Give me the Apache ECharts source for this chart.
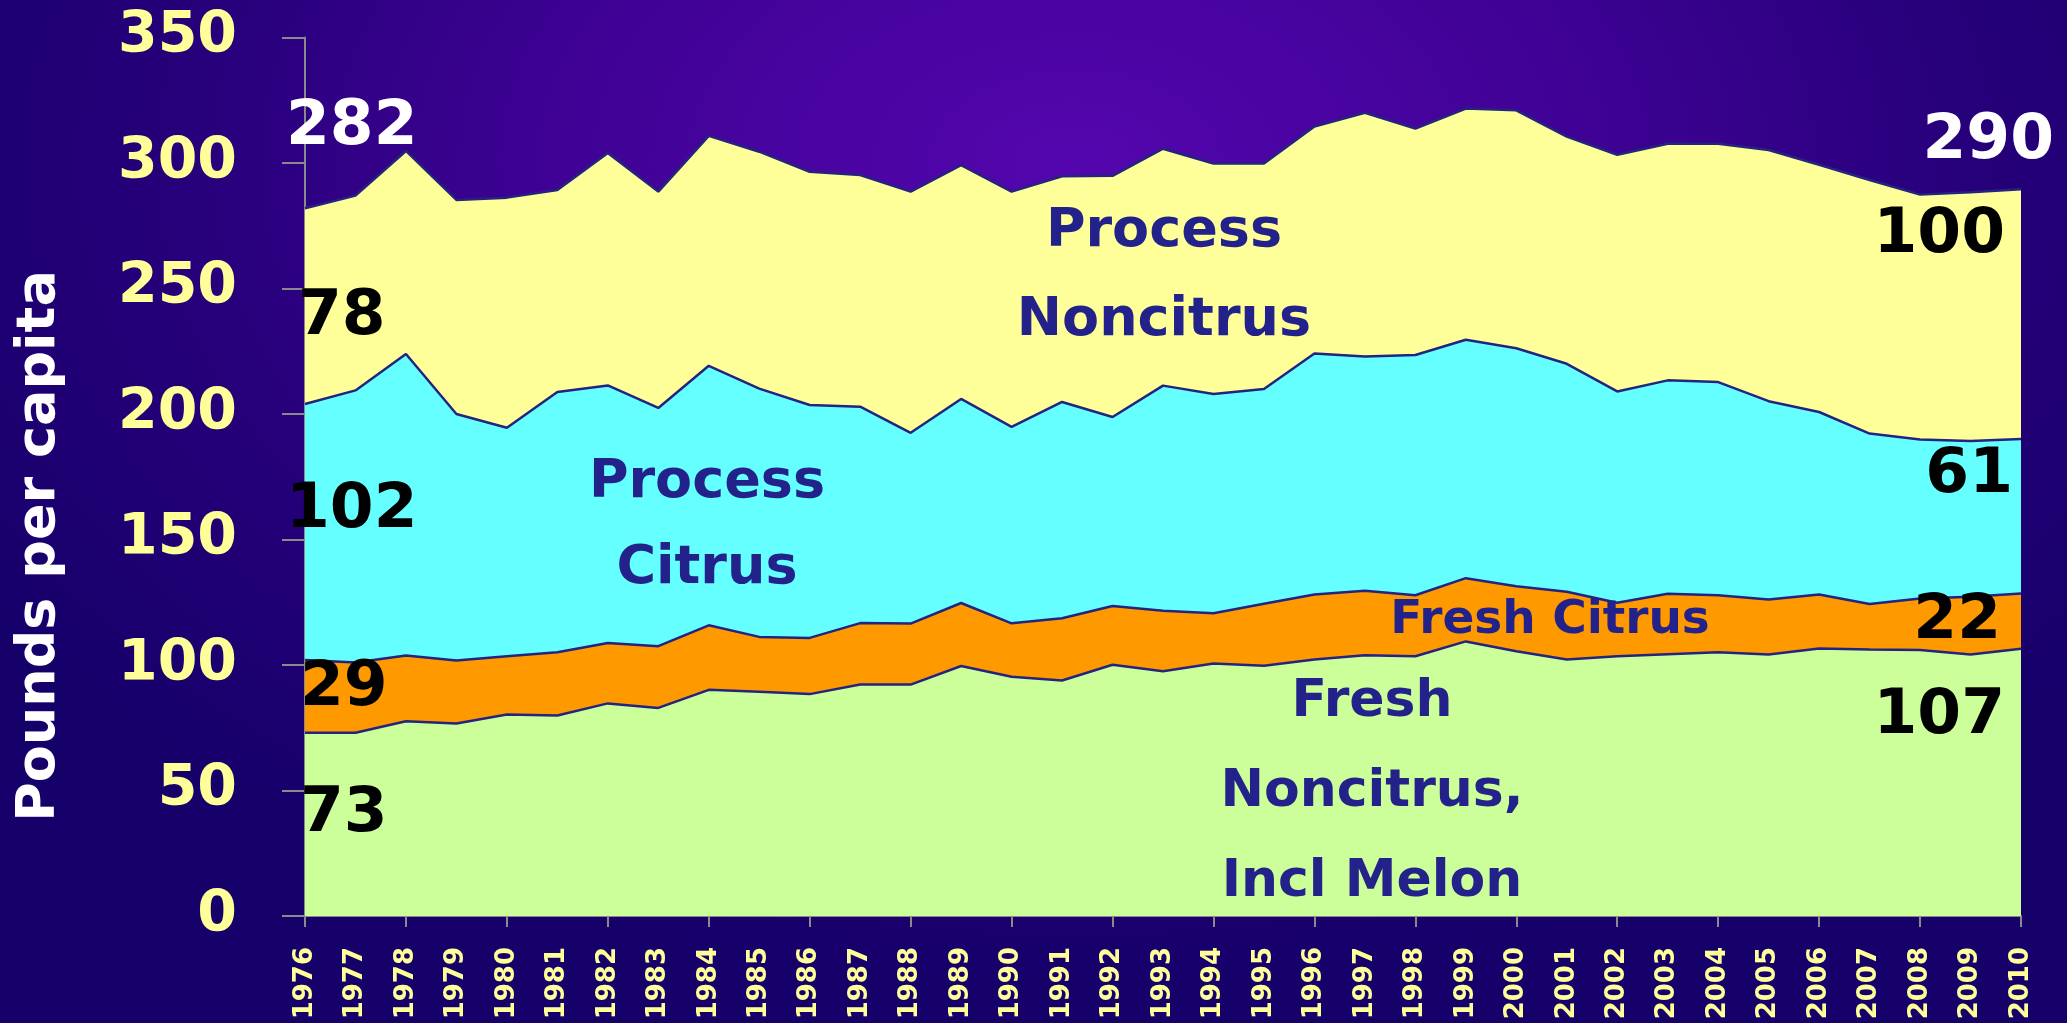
<!DOCTYPE html>
<html>
<head>
<meta charset="utf-8">
<script src="https://cdn.jsdelivr.net/npm/echarts@6/dist/echarts.min.js"></script>
<style>
  html, body { margin: 0; padding: 0; }
  body {
    width: 2067px; height: 1023px; overflow: hidden;
    background: radial-gradient(ellipse 62% 80% at 52% 16%, #5406ae 0%, #3f0295 40%, #26007a 70%, #16006a 100%);
  }
  #chart { width: 2067px; height: 1023px; }
</style>
</head>
<body>
<div id="chart"></div>
<script>
  // years on the x axis
  var years = ['1976','1977','1978','1979','1980','1981','1982','1983','1984','1985',
               '1986','1987','1988','1989','1990','1991','1992','1993','1994','1995',
               '1996','1997','1998','1999','2000','2001','2002','2003','2004','2005',
               '2006','2007','2008','2009','2010'];

  // pounds per capita (stacked bottom to top)
  var freshNoncitrus = [73, 73, 77.6, 76.7, 80.3, 79.9, 84.7, 82.9, 90.1, 89.3,
                        88.4, 92.2, 92.2, 99.6, 95.3, 93.8, 100.1, 97.5, 100.6, 99.7,
                        102.2, 103.9, 103.5, 109.4, 105.5, 102.2, 103.5, 104.3, 105.1, 104.2,
                        106.6, 106.2, 106.0, 104.2, 106.5];
  var freshCitrus = [29, 28, 26.2, 25.1, 23.2, 25.2, 24.1, 24.6, 25.7, 21.9,
                     22.4, 24.5, 24.3, 25.1, 21.3, 24.8, 23.4, 24.1, 20, 24.7,
                     25.9, 25.7, 24.3, 25.2, 25.9, 27, 21.3, 24.1, 22.7, 21.9,
                     21.5, 18.1, 20.5, 23, 22];
  var processCitrus = [102, 108.4, 120.1, 98.2, 91, 103.7, 102.6, 94.9, 103.4, 98.9,
                       92.8, 86.2, 76, 81.3, 78.3, 86.2, 75.3, 89.7, 87.4, 85.6,
                       96, 93.3, 95.7, 95, 94.8, 90.8, 84.2, 85, 84.9, 79,
                       72.7, 67.9, 63.3, 62, 61.5];
  var processNoncitrus = [78, 77.6, 80.9, 85.3, 91.7, 80.4, 92.6, 86.2, 91.6, 94.4,
                          92.9, 92.3, 96.1, 93.1, 93.7, 89.9, 96.1, 94.4, 91.8, 89.8,
                          90.4, 97.1, 90.2, 92.1, 94.8, 90.5, 94.3, 94.3, 95, 100.1,
                          98.5, 101, 97.6, 99.1, 99.5];

  var FONT = "'Comic Sans MS', 'DejaVu Sans', sans-serif";
  var edge = '#24237f';

  function areaSeries(name, data, fill) {
    return {
      name: name,
      type: 'line',
      stack: 'total',
      data: data,
      showSymbol: false,
      symbol: 'none',
      lineStyle: { color: edge, width: 2.5 },
      areaStyle: { color: fill, opacity: 1 },
      emphasis: { disabled: true },
      z: 2
    };
  }

  // big number notes at both ends
  function note(txt, x, y, color, align) {
    return {
      type: 'text', x: x, y: y, z: 100,
      style: {
        text: txt, fill: color, fontFamily: FONT, fontWeight: 'bold', fontSize: 63,
        align: align, textAlign: align, verticalAlign: 'middle', textVerticalAlign: 'middle'
      }
    };
  }
  // series names inside the areas
  function tag(txt, x, y, size, lh) {
    return {
      type: 'text', x: x, y: y, z: 100,
      style: {
        text: txt, fill: '#22228a', fontFamily: FONT, fontWeight: 'bold', fontSize: size,
        lineHeight: lh, align: 'center', textAlign: 'center',
        verticalAlign: 'middle', textVerticalAlign: 'middle'
      }
    };
  }

  var myChart = echarts.init(document.getElementById('chart'));
  myChart.setOption({
    backgroundColor: 'transparent',
    animation: false,
    grid: { left: 305, right: 46, top: 37.5, bottom: 107, containLabel: false, outerBoundsMode: 'none' },
    xAxis: {
      type: 'category',
      data: years,
      boundaryGap: false,
      axisLine: { show: true, lineStyle: { color: '#8a8a8a', width: 2 } },
      axisTick: { show: true, interval: 1, length: 11, lineStyle: { color: '#8a8a8a', width: 2 } },
      axisLabel: {
        interval: 0, rotate: 90, margin: 31,
        color: '#ffff99', fontFamily: 'DejaVu Sans', fontWeight: 'bold', fontSize: 26
      },
      splitLine: { show: false }
    },
    yAxis: {
      type: 'value',
      min: 0, max: 350, interval: 50,
      axisLine: { show: true, lineStyle: { color: '#8a8a8a', width: 2 } },
      axisTick: { show: true, length: 23, lineStyle: { color: '#8a8a8a', width: 2 } },
      axisLabel: { margin: 68, color: '#ffff99', fontFamily: FONT, fontWeight: 'bold', fontSize: 57 },
      splitLine: { show: false }
    },
    series: [
      areaSeries('Fresh Noncitrus, Incl Melon', freshNoncitrus, '#ccff99'),
      areaSeries('Fresh Citrus', freshCitrus, '#ff9900'),
      areaSeries('Process Citrus', processCitrus, '#66ffff'),
      areaSeries('Process Noncitrus', processNoncitrus, '#ffff99')
    ],
    graphic: [
      {
        type: 'text', x: 40, y: 546, rotation: Math.PI / 2, z: 100,
        style: {
          text: 'Pounds per capita', fill: '#ffffff', fontFamily: FONT, fontWeight: 'bold', fontSize: 54,
          align: 'center', textAlign: 'center', verticalAlign: 'middle', textVerticalAlign: 'middle'
        }
      },
      note('282', 286, 128, '#ffffff', 'left'),
      note('78', 298, 318, '#000000', 'left'),
      note('102', 286, 511, '#000000', 'left'),
      note('29', 300, 689, '#000000', 'left'),
      note('73', 300, 815, '#000000', 'left'),
      note('290', 2054, 142, '#ffffff', 'right'),
      note('100', 2005, 236, '#000000', 'right'),
      note('61', 2013, 476, '#000000', 'right'),
      note('22', 2001, 622, '#000000', 'right'),
      note('107', 2005, 717, '#000000', 'right'),
      tag('Process\nNoncitrus', 1164, 276, 54, 89),
      tag('Process\nCitrus', 707, 526, 54, 86),
      tag('Fresh Citrus', 1550, 621, 47, 50),
      tag('Fresh\nNoncitrus,\nIncl Melon', 1372, 792, 52, 90)
    ]
  });
</script>
</body>
</html>
